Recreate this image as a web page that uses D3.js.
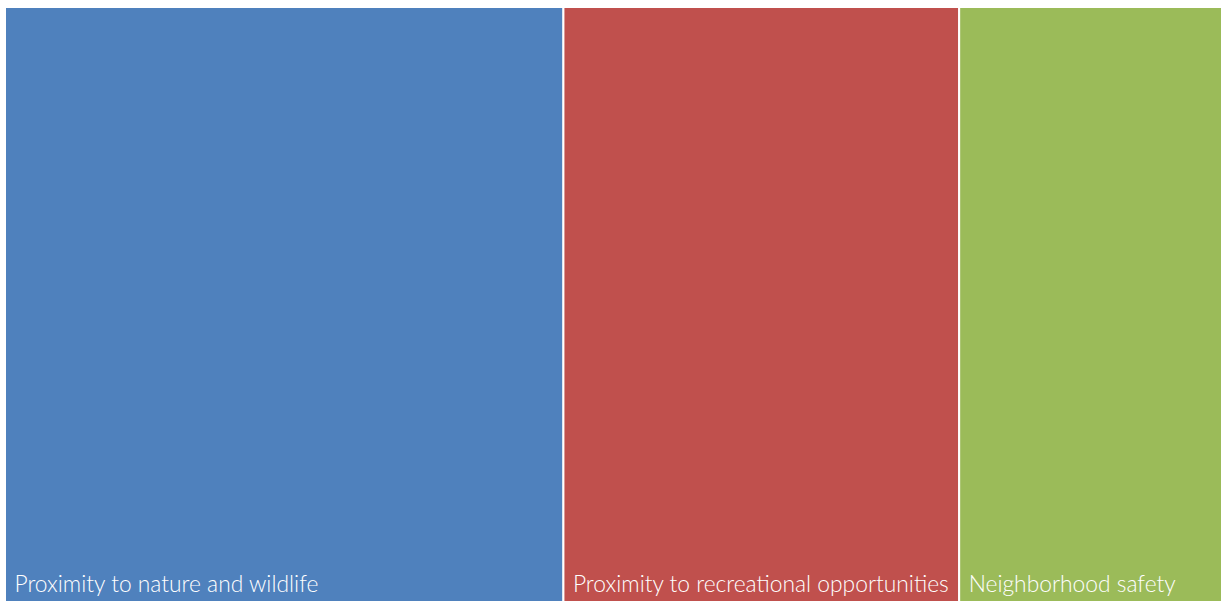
<!DOCTYPE html>
<html>
<head>
<meta charset="utf-8">
<script src="https://cdn.jsdelivr.net/npm/d3@7/dist/d3.min.js"></script>
<style>
  html, body { margin: 0; padding: 0; background: #ffffff; overflow: hidden; }
  svg { display: block; }
</style>
</head>
<body>
<svg id="chart" width="1221" height="601"></svg>
<script>
// Reasons for choosing the neighborhood (relative weight of each answer)
const categories = [
  "Proximity to nature and wildlife",
  "Proximity to recreational opportunities",
  "Neighborhood safety"
];
const values = [127, 90, 60];
const colors = ["#4F81BD", "#C0504D", "#9BBB59"];

const svg = d3.select("#chart");

const x0 = 5, y0 = 7, x1 = 1223, y1 = 606;

const root = d3.hierarchy({
  children: categories.map((name, i) => ({ name, value: values[i], color: colors[i] }))
}).sum(d => d.value || 0);

d3.treemap()
  .tile(d3.treemapDice)
  .size([x1 - x0, y1 - y0])
  .round(false)(root);

const cells = svg.append("g")
  .attr("transform", `translate(${x0},${y0})`)
  .selectAll("g")
  .data(root.leaves())
  .join("g")
  .attr("transform", d => `translate(${d.x0},${d.y0})`);

cells.append("rect")
  .attr("width", d => d.x1 - d.x0)
  .attr("height", d => d.y1 - d.y0)
  .attr("fill", d => d.data.color)
  .attr("stroke", "#ffffff")
  .attr("stroke-width", 2);

cells.append("text")
  .attr("x", 9.5)
  .attr("y", d => (y1 - y0) - 14 - d.y0)
  .attr("fill", "#ffffff")
  .attr("font-family", "Lato, 'Open Sans', sans-serif")
  .attr("font-weight", 300)
  .attr("font-size", 22.8)
  .text(d => d.data.name);
</script>
</body>
</html>
